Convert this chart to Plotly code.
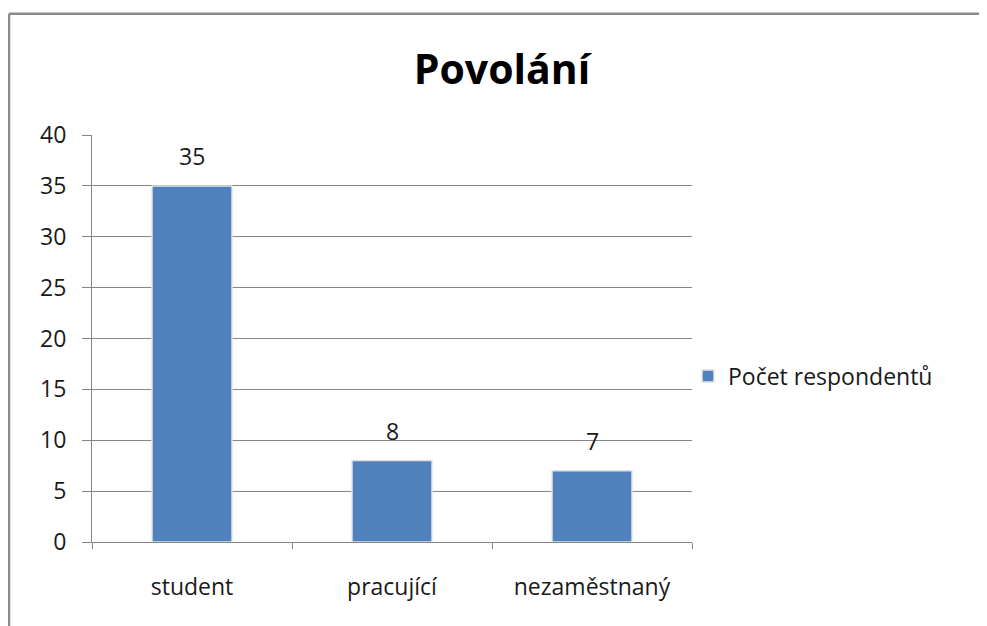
import plotly.graph_objects as go

categories = ["student", "pracující", "nezaměstnaný"]
values = [35, 8, 7]
series_name = "Počet respondentů"
y_ticks = [0, 5, 10, 15, 20, 25, 30, 35, 40]

FONT = "Open Sans"
GRAY = "#868686"
TXT = "#1a1a1a"

# the page body has an 8px default margin: figure is sized/placed to compensate
W, H = 979, 618
ML, MT = 84, 127
PW, PH = 600, 407

fig = go.Figure()
fig.add_trace(go.Bar(
    x=categories, y=values, name=series_name,
    marker=dict(color="#4F81BD", line=dict(color="#E3E3E3", width=1.5)),
    showlegend=True,
))

# value labels above the bars
for c, v in zip(categories, values):
    fig.add_annotation(x=c, y=v, xref="x", yref="y", text=str(v),
                       showarrow=False, yanchor="bottom", yshift=12,
                       font=dict(family=FONT, size=23, color=TXT))

fig.update_layout(
    width=W, height=H,
    margin=dict(l=ML, r=W - ML - PW, t=MT, b=H - MT - PH, pad=0, autoexpand=False),
    paper_bgcolor="white", plot_bgcolor="white",
    bargap=0.6,
    showlegend=True,
    legend=dict(x=680 / W, xref="container", y=1 - 368 / H, yref="container",
                xanchor="left", yanchor="middle",
                font=dict(family=FONT, size=23, color=TXT),
                itemwidth=30, bgcolor="rgba(0,0,0,0)"),
    title=dict(text="<b>Povolání</b>", x=494 / W, xref="container", xanchor="center",
               y=1 - 62 / H, yref="container", yanchor="middle",
               font=dict(family=FONT, size=41, color="black")),
    font=dict(family=FONT),
)

fig.update_xaxes(
    tickson="boundaries", ticks="outside", ticklen=6, tickcolor=GRAY,
    showline=True, linecolor=GRAY, linewidth=1, showgrid=False,
    tickfont=dict(family=FONT, size=23, color=TXT),
    ticklabelstandoff=24, automargin=False,
)
fig.update_yaxes(
    range=[0, 40], tickvals=y_ticks, ticks="outside", ticklen=9, tickcolor=GRAY,
    showline=True, linecolor=GRAY, linewidth=1,
    showgrid=True, gridcolor=GRAY, gridwidth=1,
    tickfont=dict(family=FONT, size=23, color=TXT),
    zeroline=False, ticklabelstandoff=11, automargin=False,
)

# chart frame (left and top edges)
lx = (1.0 - ML) / PW
ty = 1 + (MT - 5.7) / PH
fig.add_shape(type="line", xref="paper", yref="paper",
              x0=lx, x1=lx, y0=ty, y1=-(H - MT - PH + 10) / PH,
              line=dict(color="#8a8a8a", width=2.5))
fig.add_shape(type="line", xref="paper", yref="paper",
              x0=lx, x1=(W + 10 - ML) / PW, y0=ty, y1=ty,
              line=dict(color="#8a8a8a", width=2.5))

fig.write_html("out.html")
